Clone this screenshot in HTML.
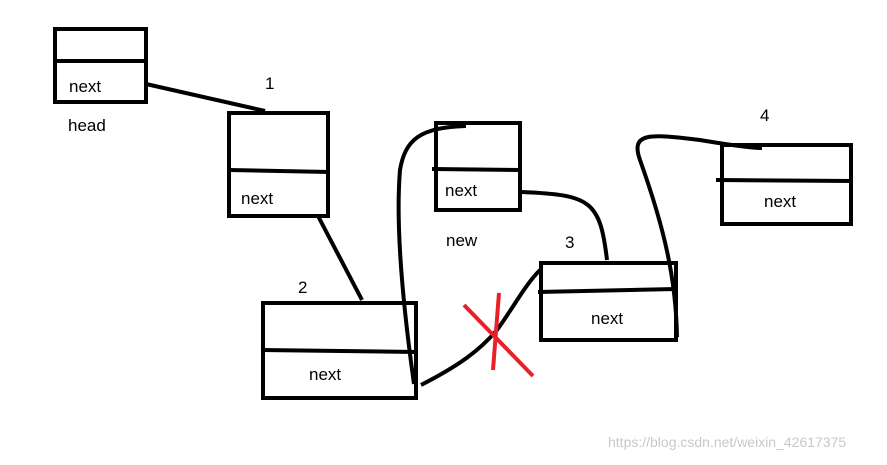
<!DOCTYPE html>
<html><head><style>
html,body{margin:0;padding:0;background:#fff;}
svg text{font-family:"Liberation Sans",sans-serif;font-size:17px;fill:#000;}
</style></head><body>
<svg width="887" height="460" viewBox="0 0 887 460" xmlns="http://www.w3.org/2000/svg">
<g fill="none" stroke="#000" stroke-width="4">
<rect x="55" y="29" width="91" height="73"/>
<line x1="55" y1="61" x2="146" y2="61"/>
<rect x="229" y="113" width="99" height="103"/>
<line x1="229" y1="170" x2="330" y2="172"/>
<rect x="436" y="123" width="84" height="87"/>
<line x1="432" y1="169" x2="522" y2="170"/>
<rect x="263" y="303" width="153" height="95"/>
<line x1="261" y1="350" x2="416" y2="352"/>
<rect x="541" y="263" width="135" height="77"/>
<line x1="538" y1="292" x2="676" y2="289"/>
<rect x="722" y="145" width="129" height="79"/>
<line x1="716" y1="180" x2="853" y2="181"/>
<path d="M146 84 L265 111"/>
<path d="M318 216 L362 300"/>
<path d="M414 384 C405 320 395 230 400 170 C405 140 420 127 466 126"/>
<path d="M421 385 C460 365 480 350 497 330 C515 305 525 285 540 270"/>
<path d="M522 192 C590 195 600 200 607 260"/>
<path d="M677 337 C676 280 665 230 640 160 C630 132 650 134 700 140 C730 145 750 148 762 148"/>
</g>
<g stroke="#e8202a" stroke-width="4">
<line x1="464" y1="305" x2="533" y2="376"/>
<line x1="499" y1="293" x2="493" y2="370"/>
</g>
<text x="69" y="92">next</text>
<text x="68" y="131">head</text>
<text x="265" y="89">1</text>
<text x="241" y="204">next</text>
<text x="445" y="196">next</text>
<text x="446" y="246">new</text>
<text x="565" y="248">3</text>
<text x="591" y="324">next</text>
<text x="298" y="293">2</text>
<text x="309" y="380">next</text>
<text x="760" y="121">4</text>
<text x="764" y="207">next</text>
<text x="608" y="447" style="font-size:14px;fill:#c8c8c8">https://blog.csdn.net/weixin_42617375</text>
</svg>
</body></html>
